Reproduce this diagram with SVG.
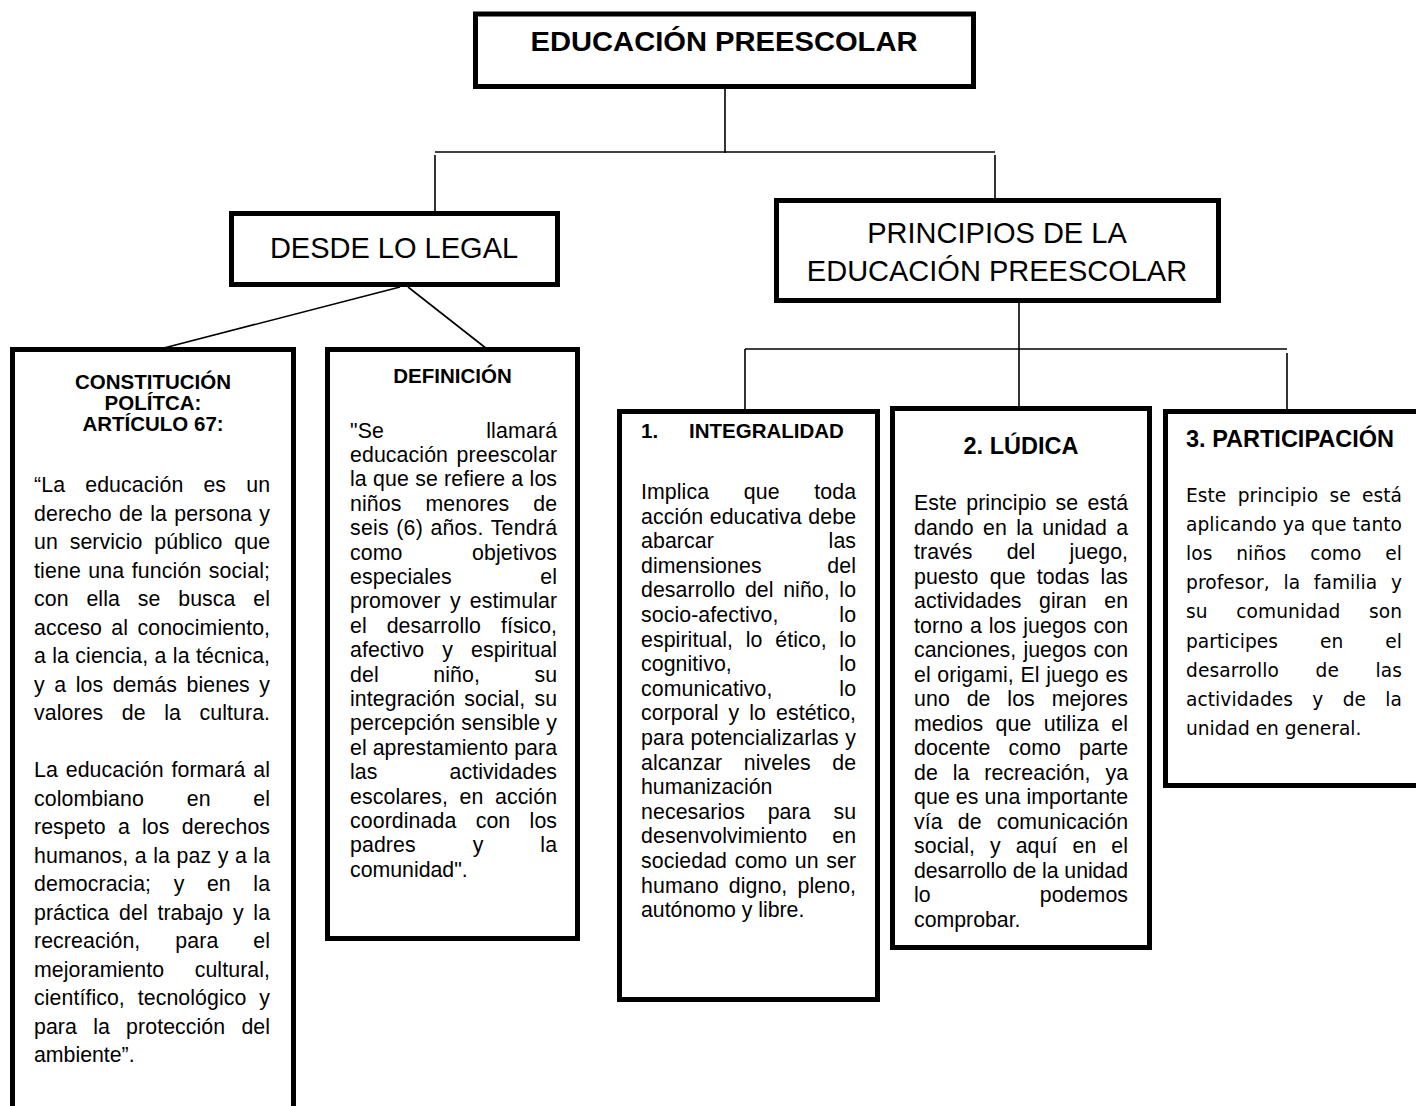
<svg xmlns="http://www.w3.org/2000/svg" width="1416" height="1106" viewBox="0 0 1416 1106">
<style>
text{font-family:"Liberation Sans",Arial,sans-serif;fill:#000}
.box{fill:#fff;stroke:#000;stroke-width:5}
.con{stroke:#000;stroke-width:1.6;fill:none}
.h1{font-size:27px;font-weight:bold;text-anchor:middle}
.h2{font-size:29px;text-anchor:middle}
.t{font-size:20.5px;font-weight:bold}
.tc{font-size:20.5px;font-weight:bold;text-anchor:middle}
.t2{font-size:23.5px;font-weight:bold}
.b{font-size:21.3px}
.p{font-family:"DejaVu Sans",Verdana,sans-serif;font-size:18.6px}
</style>
<rect width="1416" height="1106" fill="#fff"/>
<g id="connectors">
<line class="con" x1="725" y1="89" x2="725" y2="153"/>
<line class="con" x1="435" y1="152" x2="995" y2="152"/>
<line class="con" x1="435" y1="155" x2="435" y2="211"/>
<line class="con" x1="995" y1="155" x2="995" y2="198"/>
<line class="con" x1="400" y1="287" x2="160" y2="349"/>
<line class="con" x1="408" y1="287" x2="487" y2="349"/>
<line class="con" x1="1019" y1="303" x2="1019" y2="407"/>
<line class="con" x1="745" y1="349" x2="1287" y2="349"/>
<line class="con" x1="745" y1="349" x2="745" y2="410"/>
<line class="con" x1="1287" y1="353" x2="1287" y2="410"/>
</g>
<g id="n-top">
<rect class="box" x="475.5" y="14" width="498" height="72.5"/>
<text class="h1" x="724" y="51" textLength="387" lengthAdjust="spacingAndGlyphs">EDUCACIÓN PREESCOLAR</text>
</g>
<g id="n-legal">
<rect class="box" x="231.5" y="213.5" width="326" height="71"/>
<text class="h2" x="394" y="258">DESDE LO LEGAL</text>
</g>
<g id="n-principios">
<rect class="box" x="776.5" y="200.5" width="442" height="100"/>
<text class="h2" x="997" y="243">PRINCIPIOS DE LA</text>
<text class="h2" x="997" y="281">EDUCACIÓN PREESCOLAR</text>
</g>
<g id="n-constitucion">
<rect class="box" x="12.5" y="349.5" width="281" height="800"/>
<text class="tc" x="153" y="389">CONSTITUCIÓN</text>
<text class="tc" x="153" y="410">POLÍTCA:</text>
<text class="tc" x="153" y="431">ARTÍCULO 67:</text>
<text class="b" x="34" y="492" textLength="236" lengthAdjust="spacing" word-spacing="14">“La educación es un</text>
<text class="b" x="34" y="520.5" textLength="236" lengthAdjust="spacing" word-spacing="1.3">derecho de la persona y</text>
<text class="b" x="34" y="549" textLength="236" lengthAdjust="spacing" word-spacing="5.8">un servicio público que</text>
<text class="b" x="34" y="577.5" textLength="236" lengthAdjust="spacing" word-spacing="1.3">tiene una función social;</text>
<text class="b" x="34" y="606" textLength="236" lengthAdjust="spacing" word-spacing="11.8">con ella se busca el</text>
<text class="b" x="34" y="634.5" textLength="236" lengthAdjust="spacing" word-spacing="3.3">acceso al conocimiento,</text>
<text class="b" x="34" y="663" textLength="236" lengthAdjust="spacing" word-spacing="0.3">a la ciencia, a la técnica,</text>
<text class="b" x="34" y="691.5" textLength="236" lengthAdjust="spacing" word-spacing="3.5">y a los demás bienes y</text>
<text class="b" x="34" y="720" textLength="236" lengthAdjust="spacing" word-spacing="12.5">valores de la cultura.</text>
<text class="b" x="34" y="777" textLength="236" lengthAdjust="spacing" word-spacing="1.8">La educación formará al</text>
<text class="b" x="34" y="805.5" textLength="236" lengthAdjust="spacing" word-spacing="36.7">colombiano en el</text>
<text class="b" x="34" y="834" textLength="236" lengthAdjust="spacing" word-spacing="6.2">respeto a los derechos</text>
<text class="b" x="34" y="862.5" textLength="236" lengthAdjust="spacing" word-spacing="0.5">humanos, a la paz y a la</text>
<text class="b" x="34" y="891" textLength="236" lengthAdjust="spacing" word-spacing="16.5">democracia; y en la</text>
<text class="b" x="34" y="919.5" textLength="236" lengthAdjust="spacing" word-spacing="3.7">práctica del trabajo y la</text>
<text class="b" x="34" y="948" textLength="236" lengthAdjust="spacing" word-spacing="29">recreación, para el</text>
<text class="b" x="34" y="976.5" textLength="236" lengthAdjust="spacing" word-spacing="24.5">mejoramiento cultural,</text>
<text class="b" x="34" y="1005" textLength="236" lengthAdjust="spacing" word-spacing="6.9">científico, tecnológico y</text>
<text class="b" x="34" y="1033.5" textLength="236" lengthAdjust="spacing" word-spacing="10.2">para la protección del</text>
<text class="b" x="34" y="1062">ambiente”.</text>
</g>
<g id="n-definicion">
<rect class="box" x="327.5" y="349.5" width="250" height="589"/>
<text class="tc" x="452.5" y="383">DEFINICIÓN</text>
<text class="b" x="350" y="437.5" textLength="207" lengthAdjust="spacing" word-spacing="96">"Se llamará</text>
<text class="b" x="350" y="462" textLength="207" lengthAdjust="spacing" word-spacing="2.5">educación preescolar</text>
<text class="b" x="350" y="486.4" textLength="207" lengthAdjust="spacing" word-spacing="0.3">la que se refiere a los</text>
<text class="b" x="350" y="510.8" textLength="207" lengthAdjust="spacing" word-spacing="18">niños menores de</text>
<text class="b" x="350" y="535.2" textLength="207" lengthAdjust="spacing" word-spacing="1.3">seis (6) años. Tendrá</text>
<text class="b" x="350" y="559.6" textLength="207" lengthAdjust="spacing" word-spacing="63.5">como objetivos</text>
<text class="b" x="350" y="584" textLength="207" lengthAdjust="spacing" word-spacing="82.5">especiales el</text>
<text class="b" x="350" y="608.4" textLength="207" lengthAdjust="spacing" word-spacing="3.2">promover y estimular</text>
<text class="b" x="350" y="632.8" textLength="207" lengthAdjust="spacing" word-spacing="13.9">el desarrollo físico,</text>
<text class="b" x="350" y="657.2" textLength="207" lengthAdjust="spacing" word-spacing="12.1">afectivo y espiritual</text>
<text class="b" x="350" y="681.6" textLength="207" lengthAdjust="spacing" word-spacing="48.5">del niño, su</text>
<text class="b" x="350" y="706" textLength="207" lengthAdjust="spacing" word-spacing="3.1">integración social, su</text>
<text class="b" x="350" y="730.4" textLength="207" lengthAdjust="spacing">percepción sensible y</text>
<text class="b" x="350" y="754.8" textLength="207" lengthAdjust="spacing">el aprestamiento para</text>
<text class="b" x="350" y="779.2" textLength="207" lengthAdjust="spacing" word-spacing="66">las actividades</text>
<text class="b" x="350" y="803.6" textLength="207" lengthAdjust="spacing" word-spacing="5.5">escolares, en acción</text>
<text class="b" x="350" y="828" textLength="207" lengthAdjust="spacing" word-spacing="13.3">coordinada con los</text>
<text class="b" x="350" y="852.4" textLength="207" lengthAdjust="spacing" word-spacing="50.9">padres y la</text>
<text class="b" x="350" y="876.8">comunidad".</text>
</g>
<g id="n-integralidad">
<rect class="box" x="619.5" y="411.5" width="258" height="588"/>
<text class="t" x="641" y="438">1.</text>
<text class="t" x="689" y="438">INTEGRALIDAD</text>
<text class="b" x="641" y="499" textLength="215" lengthAdjust="spacing" word-spacing="28.6">Implica que toda</text>
<text class="b" x="641" y="523.6" textLength="215" lengthAdjust="spacing" word-spacing="0.5">acción educativa debe</text>
<text class="b" x="641" y="548.2" textLength="215" lengthAdjust="spacing" word-spacing="108.7">abarcar las</text>
<text class="b" x="641" y="572.8" textLength="215" lengthAdjust="spacing" word-spacing="59.7">dimensiones del</text>
<text class="b" x="641" y="597.4" textLength="215" lengthAdjust="spacing" word-spacing="3.6">desarrollo del niño, lo</text>
<text class="b" x="641" y="622" textLength="215" lengthAdjust="spacing" word-spacing="54.9">socio-afectivo, lo</text>
<text class="b" x="641" y="646.6" textLength="215" lengthAdjust="spacing" word-spacing="6.7">espiritual, lo ético, lo</text>
<text class="b" x="641" y="671.2" textLength="215" lengthAdjust="spacing" word-spacing="101.5">cognitivo, lo</text>
<text class="b" x="641" y="695.8" textLength="215" lengthAdjust="spacing" word-spacing="60.9">comunicativo, lo</text>
<text class="b" x="641" y="720.4" textLength="215" lengthAdjust="spacing" word-spacing="4">corporal y lo estético,</text>
<text class="b" x="641" y="745" textLength="215" lengthAdjust="spacing" word-spacing="0.5">para potencializarlas y</text>
<text class="b" x="641" y="769.6" textLength="215" lengthAdjust="spacing" word-spacing="15.5">alcanzar niveles de</text>
<text class="b" x="641" y="794.2">humanización</text>
<text class="b" x="641" y="818.8" textLength="215" lengthAdjust="spacing" word-spacing="16.7">necesarios para su</text>
<text class="b" x="641" y="843.4" textLength="215" lengthAdjust="spacing" word-spacing="19">desenvolvimiento en</text>
<text class="b" x="641" y="868" textLength="215" lengthAdjust="spacing" word-spacing="1.6">sociedad como un ser</text>
<text class="b" x="641" y="892.6" textLength="215" lengthAdjust="spacing" word-spacing="4.1">humano digno, pleno,</text>
<text class="b" x="641" y="917.2">autónomo y libre.</text>
</g>
<g id="n-ludica">
<rect class="box" x="892.5" y="408.5" width="257" height="539"/>
<text class="t2" x="1021" y="454" text-anchor="middle">2. LÚDICA</text>
<text class="b" x="914" y="510" textLength="214" lengthAdjust="spacing" word-spacing="3.2">Este principio se está</text>
<text class="b" x="914" y="534.5" textLength="214" lengthAdjust="spacing" word-spacing="3.3">dando en la unidad a</text>
<text class="b" x="914" y="559" textLength="214" lengthAdjust="spacing" word-spacing="28.1">través del juego,</text>
<text class="b" x="914" y="583.5" textLength="214" lengthAdjust="spacing" word-spacing="5.2">puesto que todas las</text>
<text class="b" x="914" y="608" textLength="214" lengthAdjust="spacing" word-spacing="11.4">actividades giran en</text>
<text class="b" x="914" y="632.5" textLength="214" lengthAdjust="spacing" word-spacing="0.9">torno a los juegos con</text>
<text class="b" x="914" y="657" textLength="214" lengthAdjust="spacing" word-spacing="1.3">canciones, juegos con</text>
<text class="b" x="914" y="681.5" textLength="214" lengthAdjust="spacing" word-spacing="0.6">el origami, El juego es</text>
<text class="b" x="914" y="706" textLength="214" lengthAdjust="spacing" word-spacing="10.8">uno de los mejores</text>
<text class="b" x="914" y="730.5" textLength="214" lengthAdjust="spacing" word-spacing="6.4">medios que utiliza el</text>
<text class="b" x="914" y="755" textLength="214" lengthAdjust="spacing" word-spacing="12">docente como parte</text>
<text class="b" x="914" y="779.5" textLength="214" lengthAdjust="spacing" word-spacing="8.8">de la recreación, ya</text>
<text class="b" x="914" y="804" textLength="214" lengthAdjust="spacing">que es una importante</text>
<text class="b" x="914" y="828.5" textLength="214" lengthAdjust="spacing" word-spacing="9">vía de comunicación</text>
<text class="b" x="914" y="853" textLength="214" lengthAdjust="spacing" word-spacing="9">social, y aquí en el</text>
<text class="b" x="914" y="877.5" textLength="214" lengthAdjust="spacing">desarrollo de la unidad</text>
<text class="b" x="914" y="902" textLength="214" lengthAdjust="spacing" word-spacing="102.9">lo podemos</text>
<text class="b" x="914" y="926.5">comprobar.</text>
</g>
<g id="n-participacion">
<rect class="box" x="1165.5" y="411.5" width="260" height="374"/>
<text class="t2" x="1186" y="447">3. PARTICIPACIÓN</text>
<text class="p" x="1186" y="502" textLength="216" lengthAdjust="spacing" word-spacing="5.3">Este principio se está</text>
<text class="p" x="1186" y="531.1" textLength="216" lengthAdjust="spacing">aplicando ya que tanto</text>
<text class="p" x="1186" y="560.2" textLength="216" lengthAdjust="spacing" word-spacing="17.9">los niños como el</text>
<text class="p" x="1186" y="589.3" textLength="216" lengthAdjust="spacing" word-spacing="7.7">profesor, la familia y</text>
<text class="p" x="1186" y="618.4" textLength="216" lengthAdjust="spacing" word-spacing="22.7">su comunidad son</text>
<text class="p" x="1186" y="647.5" textLength="216" lengthAdjust="spacing" word-spacing="36">participes en el</text>
<text class="p" x="1186" y="676.6" textLength="216" lengthAdjust="spacing" word-spacing="30.5">desarrollo de las</text>
<text class="p" x="1186" y="705.7" textLength="216" lengthAdjust="spacing" word-spacing="13.3">actividades y de la</text>
<text class="p" x="1186" y="734.8">unidad en general.</text>
</g>
</svg>
